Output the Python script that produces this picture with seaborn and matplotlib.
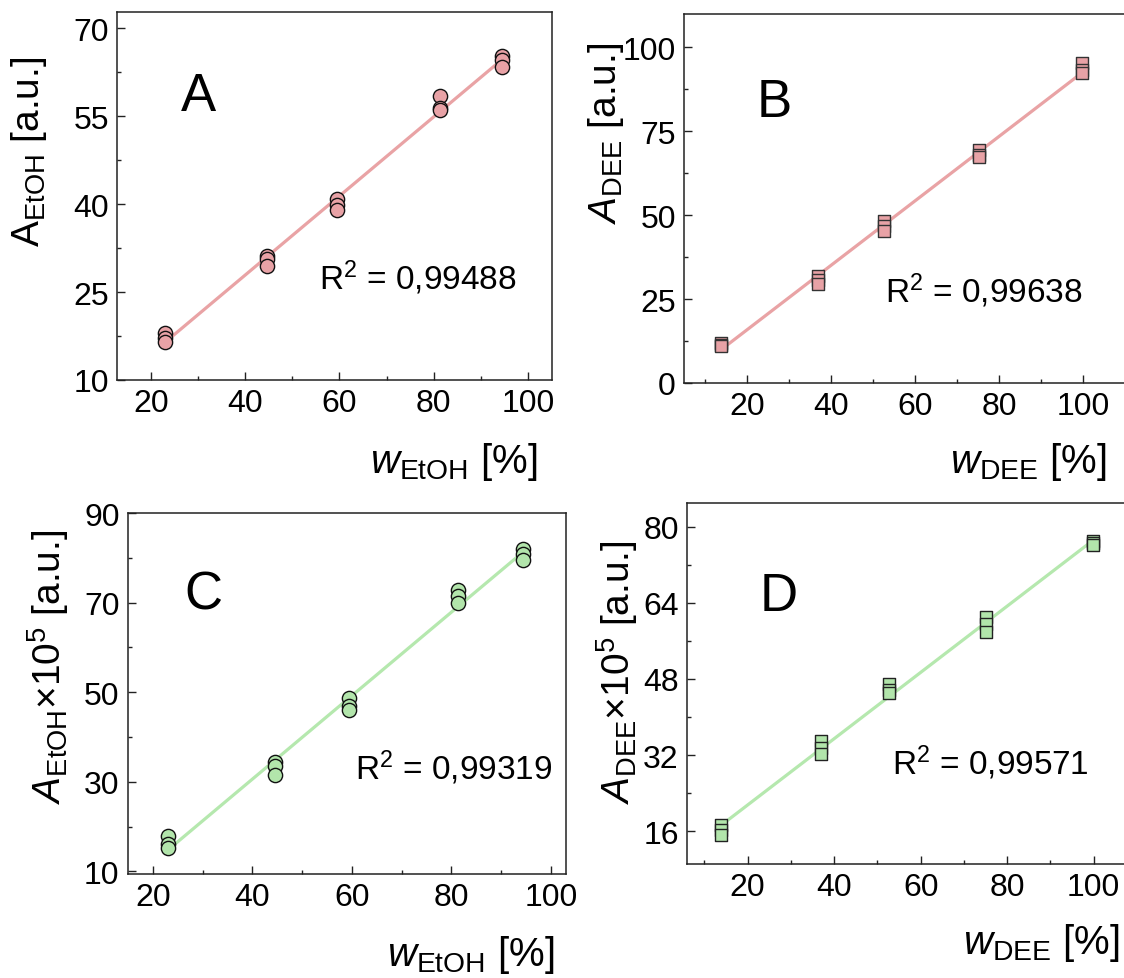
import numpy as np
import pandas as pd
import matplotlib
matplotlib.use("Agg")
import matplotlib.pyplot as plt
import seaborn as sns
from matplotlib.ticker import FixedLocator

# Ethanol calibration: mass fraction [%] and three replicate peak areas per level
etoh_w = [23.1, 44.6, 59.5, 81.3, 94.4]
etoh_area_a = [[18.0, 17.2, 16.5], [31.1, 30.6, 29.4], [40.9, 39.8, 39.0],
               [58.4, 56.4, 56.0], [65.2, 64.5, 63.4]]
etoh_area_c = [[17.8, 16.0, 15.3], [34.4, 33.6, 31.6], [48.6, 46.8, 46.0],
               [72.8, 71.4, 69.8], [82.0, 80.8, 79.6]]

# Diethyl ether calibration
dee_w = [13.8, 36.9, 52.6, 75.2, 99.8]
dee_area_b = [[11.8, 11.3, 11.0], [31.8, 30.8, 29.5], [48.2, 46.8, 45.3],
              [69.4, 68.0, 67.2], [95.3, 93.2, 92.2]]
dee_area_d = [[17.2, 16.2, 15.2], [35.0, 33.4, 32.2], [47.0, 45.6, 45.0],
              [61.0, 59.6, 57.8], [77.0, 76.6, 76.2]]

r2_values = ["0,99488", "0,99638", "0,99319", "0,99571"]
panel_letters = ["A", "B", "C", "D"]

sns.set_theme(style="ticks")
plt.rcParams["font.family"] = ["Liberation Sans", "DejaVu Sans"]
plt.rcParams["mathtext.fontset"] = "custom"
plt.rcParams["mathtext.rm"] = "Liberation Sans"
plt.rcParams["mathtext.it"] = "Liberation Sans:italic"
plt.rcParams["mathtext.bf"] = "Liberation Sans:bold"
plt.rcParams["text.color"] = "black"
plt.rcParams["axes.labelcolor"] = "black"
plt.rcParams["xtick.color"] = "black"
plt.rcParams["ytick.color"] = "black"

W, H = 1124, 979
fig = plt.figure(figsize=(W / 100, H / 100), dpi=100)
fig.patch.set_facecolor("white")

PINK, PINK_LINE = "#E8A2A6", "#E9A3A5"
GREEN, GREEN_LINE = "#B2E5AB", "#B5E8AE"


def fx(x):
    return x / W


def fy(y):
    return 1 - y / H


def long_table(levels, reps):
    return pd.DataFrame({"w": np.repeat(levels, len(reps[0])),
                         "area": np.ravel(reps)})


panels = [
    dict(levels=etoh_w, reps=etoh_area_a, box=(117.3, 552, 12.7, 381),
         xlim=(12.9, 105.1), ylim=(10, 72.8),
         xmaj=[20, 40, 60, 80, 100], xmin=[30, 50, 70, 90],
         ymaj=[10, 25, 40, 55, 70], ymin=[17.5, 32.5, 47.5, 62.5],
         marker="o", size=105, fill=PINK, line=PINK_LINE, edge="#111111",
         ylabel=r"$\mathrm{A}_{\mathrm{EtOH}}$ [a.u.]", ylab_xy=(29.5, 152),
         xlabel=r"$\mathit{w}_{\mathrm{EtOH}}$ [%]", xlab_xy=(454, 462),
         letter_xy=(198, 97), r2_xy=(319, 290)),
    dict(levels=dee_w, reps=dee_area_b, box=(684.1, 1127, 14.7, 384),
         xlim=(5, 110.4), ylim=(0, 110),
         xmaj=[20, 40, 60, 80, 100], xmin=[10, 30, 50, 70, 90],
         ymaj=[0, 25, 50, 75, 100], ymin=[12.5, 37.5, 62.5, 87.5],
         marker="s", size=78, fill=PINK, line=PINK_LINE, edge="#333333",
         ylabel=r"$\mathit{A}_{\mathrm{DEE}}$ [a.u.]", ylab_xy=(606, 133),
         xlabel=r"$\mathit{w}_{\mathrm{DEE}}$ [%]", xlab_xy=(1028, 462),
         letter_xy=(774, 103), r2_xy=(885, 303)),
    dict(levels=etoh_w, reps=etoh_area_c, box=(127.9, 566, 514, 875),
         xlim=(15, 103), ylim=(9.4, 90),
         xmaj=[20, 40, 60, 80, 100], xmin=[30, 50, 70, 90],
         ymaj=[10, 30, 50, 70, 90], ymin=[20, 40, 60, 80],
         marker="o", size=105, fill=GREEN, line=GREEN_LINE, edge="#111111",
         ylabel=r"$\mathit{A}_{\mathrm{EtOH}}$×10$^{5}$ [a.u.]", ylab_xy=(48.5, 667),
         xlabel=r"$\mathit{w}_{\mathrm{EtOH}}$ [%]", xlab_xy=(471, 955),
         letter_xy=(203, 596), r2_xy=(355, 780)),
    dict(levels=dee_w, reps=dee_area_d, box=(687, 1127, 504.3, 865),
         xlim=(6, 107.7), ylim=(9.1, 84.9),
         xmaj=[20, 40, 60, 80, 100], xmin=[10, 30, 50, 70, 90],
         ymaj=[16, 32, 48, 64, 80], ymin=[24, 40, 56, 72],
         marker="s", size=78, fill=GREEN, line=GREEN_LINE, edge="#222222",
         ylabel=r"$\mathit{A}_{\mathrm{DEE}}$×10$^{5}$ [a.u.]", ylab_xy=(617, 672),
         xlabel=r"$\mathit{w}_{\mathrm{DEE}}$ [%]", xlab_xy=(1041, 943),
         letter_xy=(779, 597), r2_xy=(892, 775)),
]

for i, p in enumerate(panels):
    l, r, t, b = p["box"]
    ax = fig.add_axes([fx(l), fy(b), (r - l) / W, (b - t) / H])
    df = long_table(p["levels"], p["reps"])

    # least-squares calibration line, then the replicate points on top
    sns.regplot(data=df, x="w", y="area", ax=ax, scatter=False, ci=None,
                line_kws=dict(color=p["line"], lw=2.3, zorder=2))
    sns.scatterplot(data=df, x="w", y="area", ax=ax, marker=p["marker"],
                    s=p["size"], color=p["fill"], edgecolor=p["edge"],
                    linewidth=1.0, zorder=3, legend=False)

    ax.set_xlim(*p["xlim"])
    ax.set_ylim(*p["ylim"])
    ax.xaxis.set_major_locator(FixedLocator(p["xmaj"]))
    ax.xaxis.set_minor_locator(FixedLocator(p["xmin"]))
    ax.yaxis.set_major_locator(FixedLocator(p["ymaj"]))
    ax.yaxis.set_minor_locator(FixedLocator(p["ymin"]))
    ax.set_xticklabels([str(v) for v in p["xmaj"]])
    ax.set_yticklabels([f"{v:g}" for v in p["ymaj"]])
    ax.tick_params(which="both", direction="in", top=False, right=False,
                   color="#222222", width=1.0, labelsize=23, labelcolor="black")
    ax.tick_params(which="major", length=5.5, pad=6)
    ax.tick_params(which="minor", length=3)
    for sp in ax.spines.values():
        sp.set_visible(True)
        sp.set_color("#222222")
        sp.set_linewidth(1.1)
    ax.set_facecolor("white")

    ax.set_ylabel(p["ylabel"], fontsize=28, color="black")
    ax.yaxis.set_label_coords(fx(p["ylab_xy"][0]), fy(p["ylab_xy"][1]),
                              transform=fig.transFigure)
    ax.yaxis.label.set_va("center")
    ax.yaxis.label.set_ha("center")
    ax.set_xlabel(p["xlabel"], fontsize=29, color="black")
    ax.xaxis.set_label_coords(fx(p["xlab_xy"][0]), fy(p["xlab_xy"][1]),
                              transform=fig.transFigure)
    ax.xaxis.label.set_va("center")
    ax.xaxis.label.set_ha("center")

    fig.text(fx(p["letter_xy"][0]), fy(p["letter_xy"][1]), panel_letters[i],
             fontsize=38, ha="center", va="center", color="black")
    fig.text(fx(p["r2_xy"][0]), fy(p["r2_xy"][1]), "R$^{2}$ = " + r2_values[i],
             fontsize=24, ha="left", va="baseline", color="black")

fig.savefig("out.png", dpi=100, facecolor="white")
